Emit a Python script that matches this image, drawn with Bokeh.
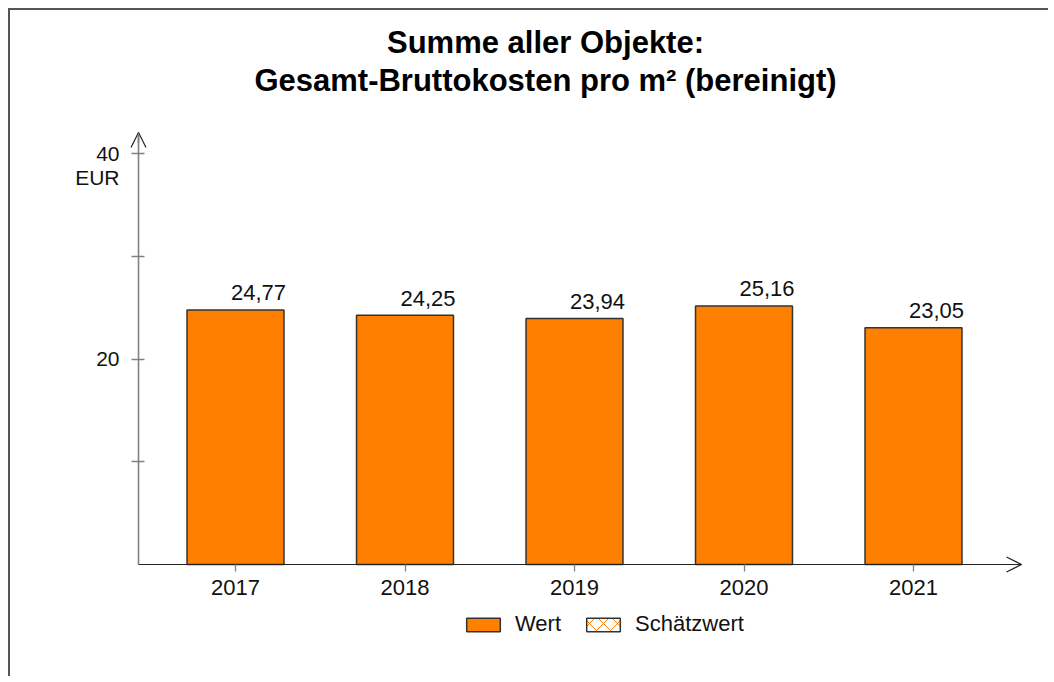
import numpy as np
from bokeh.plotting import figure
from bokeh.models import (Range1d, FixedTicker, Label, Legend, LegendItem,
                          ColumnDataSource, Arrow, OpenHead)
from bokeh.core.properties import value
from bokeh.embed import file_html
from bokeh.resources import INLINE

# ---- data ----
years = ["2017", "2018", "2019", "2020", "2021"]
values = [24.77, 24.25, 23.94, 25.16, 23.05]
y_ticks = [10, 20, 30, 40]
y_tick_labels = {10: "", 20: "20", 30: "", 40: "40"}
title_lines = ["Summe aller Objekte:", "Gesamt-Bruttokosten pro m² (bereinigt)"]
unit = "EUR"
legend_labels = ["Wert", "Schätzwert"]

# ---- layout (page pixels) ----
CANVAS_X0, CANVAS_Y0 = 10, 10
W, H = 1040, 668
CAT0_PX, STEP_PX = 235.0, 169.5     # first category centre, category spacing
ZERO_PX, PPU = 564.0, 10.275        # y pixel of value 0, pixels per unit
def px_to_x(px): return (px - CAT0_PX) / STEP_PX
def py_to_y(py): return (ZERO_PX - py) / PPU

FONT = "Liberation Sans"
ORANGE = "#FF8000"
EDGE = "#333333"
BAR_W = 0.572

xs = list(range(len(years)))
labels = [f"{v:.2f}".replace(".", ",") for v in values]
src = ColumnDataSource(dict(x=xs, top=values, lab=labels,
                            right=[x + BAR_W / 2 for x in xs]))

p = figure(width=W, height=H, output_backend="svg", toolbar_location=None,
           x_range=Range1d(px_to_x(CANVAS_X0), px_to_x(CANVAS_X0 + W)),
           y_range=Range1d(py_to_y(CANVAS_Y0 + H), py_to_y(CANVAS_Y0)),
           min_border=0)
p.styles = {"margin-left": "8px", "margin-top": "8px",
            "border-top": "2px solid #555555", "border-left": "2px solid #555555"}
p.grid.visible = False
p.outline_line_color = None
p.background_fill_color = "white"
p.border_fill_color = "white"

bars = p.vbar(x="x", top="top", width=BAR_W, source=src, fill_color=ORANGE,
              line_color=EDGE, line_width=1.5)
hatch_src = ColumnDataSource(dict(x=np.array([np.nan]), top=np.array([np.nan])))
hatch = p.vbar(x="x", top="top", width=0.5, source=hatch_src, fill_color="white",
               line_color=EDGE, line_width=1.5, hatch_pattern="x",
               hatch_color=ORANGE, hatch_scale=14, hatch_weight=1)

p.text(x="right", y="top", text="lab", source=src, x_offset=2, y_offset=-17,
       text_align="right", text_baseline="middle", text_font=value(FONT),
       text_font_size="22px", text_color="#111111")

x_axis_end = px_to_x(1021)
y_axis_end = py_to_y(132)
x_axis_pos = px_to_x(138)

# ---- axes (fixed inside the frame) ----
yax = p.yaxis[0]
yax.fixed_location = x_axis_pos
yax.bounds = (0, y_axis_end)
yax.ticker = FixedTicker(ticks=y_ticks)
yax.major_label_overrides = y_tick_labels
yax.axis_line_color = "#808080"
yax.axis_line_width = 1.6
yax.major_tick_line_color = "#808080"
yax.major_tick_line_width = 1.3
yax.major_tick_in = 6
yax.major_tick_out = 7
yax.minor_tick_line_color = None
yax.major_label_text_font = FONT
yax.major_label_text_font_size = "21px"
yax.major_label_text_color = "#111111"
yax.major_label_standoff = 12

xax = p.xaxis[0]
xax.fixed_location = 0
xax.bounds = (x_axis_pos, x_axis_end)
xax.ticker = FixedTicker(ticks=xs)
xax.major_label_overrides = {i: y for i, y in enumerate(years)}
xax.axis_line_color = "#222222"
xax.axis_line_width = 1.2
xax.major_tick_line_color = "#808080"
xax.major_tick_line_width = 1.3
xax.major_tick_in = 0
xax.major_tick_out = 7
xax.minor_tick_line_color = None
xax.major_label_text_font = FONT
xax.major_label_text_font_size = "22px"
xax.major_label_text_color = "#111111"
xax.major_label_standoff = 8

# arrow heads
p.add_layout(Arrow(end=OpenHead(size=15, line_color="#222222", line_width=1.2),
                   x_start=x_axis_end - 0.05, x_end=x_axis_end, y_start=0, y_end=0,
                   line_color="#222222", line_width=1.2))
p.add_layout(Arrow(end=OpenHead(size=15, line_color="#222222", line_width=1.2),
                   x_start=x_axis_pos, x_end=x_axis_pos,
                   y_start=y_axis_end - 1, y_end=y_axis_end,
                   line_color="#808080", line_width=1.6))

# unit label
p.add_layout(Label(x=px_to_x(119), y=py_to_y(177), text=unit,
                   text_align="right", text_baseline="middle",
                   text_font=FONT, text_font_size="21px", text_color="#111111"))

# title
tx = px_to_x(545)
p.add_layout(Label(x=tx, y=py_to_y(42), text=title_lines[0], text_align="center",
                   text_baseline="middle", text_font=FONT, text_font_size="31px",
                   text_font_style="bold", text_color="#000000"))
p.add_layout(Label(x=tx, y=py_to_y(80), text=title_lines[1], text_align="center",
                   text_baseline="middle", text_font=FONT, text_font_size="31px",
                   text_font_style="bold", text_color="#000000"))

legend = Legend(items=[LegendItem(label=legend_labels[0], renderers=[bars]),
                       LegendItem(label=legend_labels[1], renderers=[hatch])],
                orientation="horizontal", location=(452, 41),
                glyph_width=42, glyph_height=17, label_text_font=FONT,
                label_text_font_size="22px", label_text_color="#111111",
                border_line_color=None, background_fill_alpha=0,
                spacing=21, label_standoff=11, padding=0, margin=0)
p.add_layout(legend, "center")

open("out.html", "w").write(file_html(p, INLINE))
